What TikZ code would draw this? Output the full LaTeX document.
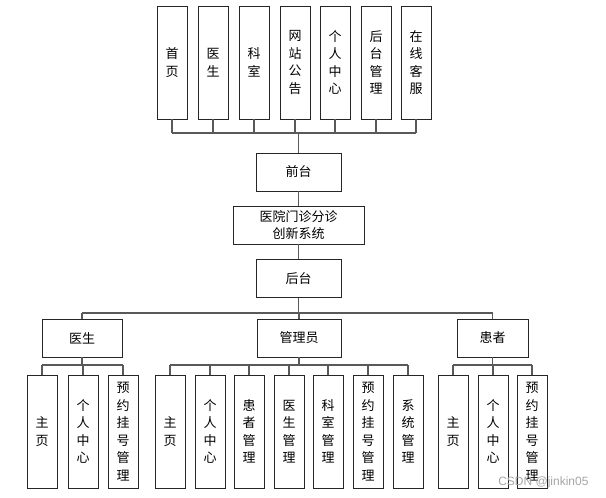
\documentclass[tikz,border=0pt]{standalone}
\usepackage{fontspec}
\newfontfamily\cjk{Noto Sans CJK SC}
\begin{document}
\begin{tikzpicture}[x=1pt,y=-1pt,
  vbox/.style={draw=black!85, line width=0.9pt, fill=white, minimum width=30pt, minimum height=113pt, inner sep=0pt, align=center, font=\cjk\fontsize{13}{17.5}\selectfont},
  hbox/.style={draw=black!85, line width=0.9pt, fill=white, minimum width=85pt, minimum height=38pt, inner sep=0pt, align=center, font=\cjk\fontsize{13}{17}\selectfont},
  conn/.style={draw=black!65, line width=1.3pt}]
\fill[white] (0,0) rectangle (606,498);
\useasboundingbox (0,0) rectangle (606,498);
% top row
\node[vbox] (t1) at (172,62.5) {首\\页};
\node[vbox] (t2) at (213,62.5) {医\\生};
\node[vbox] (t3) at (254,62.5) {科\\室};
\node[vbox] (t4) at (295,62.5) {网\\站\\公\\告};
\node[vbox] (t5) at (335,62.5) {个\\人\\中\\心};
\node[vbox] (t6) at (376,62.5) {后\\台\\管\\理};
\node[vbox] (t7) at (416,62.5) {在\\线\\客\\服};
% middle
\node[hbox] (front) at (298.5,172) {前台};
\node[hbox, minimum width=131pt] (sys) at (298.5,225) {医院门诊分诊\\创新系统};
\node[hbox] (back) at (298.5,278.5) {后台};
% role boxes
\node[hbox, minimum width=80pt] (doc) at (82,338) {医生};
\node[hbox, minimum width=84pt] (adm) at (299,338) {管理员};
\node[hbox, minimum width=71pt] (pat) at (492.5,338) {患者};
% doctor leaves
\node[vbox] (d1) at (42,431.5) {主\\页};
\node[vbox] (d2) at (83,431.5) {个\\人\\中\\心};
\node[vbox] (d3) at (123,431.5) {预\\约\\挂\\号\\管\\理};
% admin leaves
\node[vbox] (a1) at (170,431.5) {主\\页};
\node[vbox] (a2) at (210,431.5) {个\\人\\中\\心};
\node[vbox] (a3) at (249,431.5) {患\\者\\管\\理};
\node[vbox] (a4) at (289,431.5) {医\\生\\管\\理};
\node[vbox] (a5) at (328,431.5) {科\\室\\管\\理};
\node[vbox] (a6) at (368,431.5) {预\\约\\挂\\号\\管\\理};
\node[vbox] (a7) at (408,431.5) {系\\统\\管\\理};
% patient leaves
\node[vbox] (p1) at (453,431.5) {主\\页};
\node[vbox] (p2) at (493,431.5) {个\\人\\中\\心};
\node[vbox] (p3) at (532,431.5) {预\\约\\挂\\号\\管\\理};
% bus coordinates
\coordinate (topbus) at (298.5,133);
\coordinate (mainbus) at (298.5,313);
\coordinate (dbus) at (82,365);
\coordinate (abus) at (299,365);
\coordinate (pbus) at (492.5,365);
% top connectors
\foreach \n in {t1,t2,t3,t4,t5,t6,t7} \draw[conn] (\n.south) -- (\n.south |- topbus);
\draw[conn] (t1.south |- topbus) -- (t7.south |- topbus);
\draw[conn] (topbus) -- (front.north);
\draw[conn] (front.south) -- (sys.north);
\draw[conn] (sys.south) -- (back.north);
% main bus
\draw[conn] (back.south) -- (mainbus);
\draw[conn] (doc.north |- mainbus) -- (pat.north |- mainbus);
\foreach \n in {doc,adm,pat} \draw[conn] (\n.north |- mainbus) -- (\n.north);
% sub buses
\draw[conn] (doc.south) -- (dbus);
\draw[conn] (d1.north |- dbus) -- (d3.north |- dbus);
\foreach \n in {d1,d2,d3} \draw[conn] (\n.north |- dbus) -- (\n.north);
\draw[conn] (adm.south) -- (abus);
\draw[conn] (a1.north |- abus) -- (a7.north |- abus);
\foreach \n in {a1,a2,a3,a4,a5,a6,a7} \draw[conn] (\n.north |- abus) -- (\n.north);
\draw[conn] (pat.south) -- (pbus);
\draw[conn] (p1.north |- pbus) -- (p3.north |- pbus);
\foreach \n in {p1,p2,p3} \draw[conn] (\n.north |- pbus) -- (\n.north);
% watermark
\node[text=black!35, font=\fontspec{Liberation Sans}\fontsize{12}{12}\selectfont, anchor=east] (wm) at (592,482) {CSDN @jinkin05};
\end{tikzpicture}
\end{document}
